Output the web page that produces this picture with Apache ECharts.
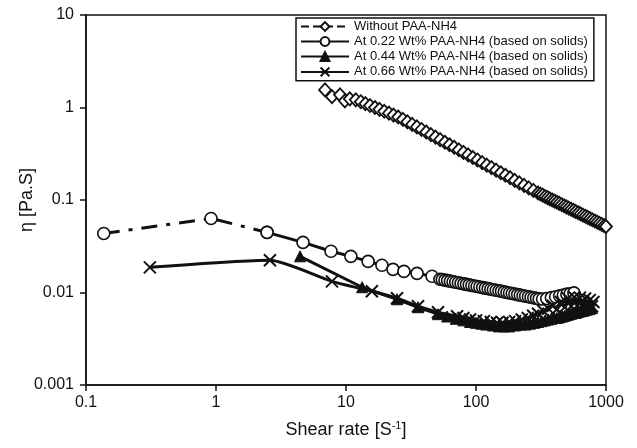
<!DOCTYPE html>
<html>
<head>
<meta charset="utf-8">
<script src="https://cdn.jsdelivr.net/npm/echarts@6/dist/echarts.min.js"></script>
<style>
  html, body { margin: 0; padding: 0; background: #fff; }
  #chart { width: 637px; height: 448px; }
</style>
</head>
<body>
<div id="chart"></div>
<script>
// tick labels
var xTicks = ['0.1', '1', '10', '100', '1000'];
var yTicks = ['0.001', '0.01', '0.1', '1', '10'];

var seriesNames = [
  'Without PAA-NH4',
  'At 0.22 Wt% PAA-NH4 (based on solids)',
  'At 0.44 Wt% PAA-NH4 (based on solids)',
  'At 0.66 Wt% PAA-NH4 (based on solids)'
];

// without PAA-NH4 (diamonds)
var rate0 = [6.9, 7.8, 9.0, 9.8, 10.7, 11.9, 13, 14.1, 15.3, 16.7, 18.1, 19.7, 21.4, 23.2, 25.2,
  27.4, 29.7, 32.3, 35.1, 38.1, 41.4, 45, 48.8, 53, 57.6, 62.5, 67.9, 73.8, 80.1, 87, 94.5,
  102.6, 111.5, 121, 131.5, 142.8, 155, 168.4, 183, 198.6, 215.7, 234.3, 254.5, 276.4, 300,
  313, 326, 340, 355, 370, 386, 402, 419, 437, 456, 476, 496, 517, 539, 562, 586, 611, 637,
  665, 693, 723, 754, 786, 820, 855, 891, 929, 969, 1000];
var eta0 = [1.55, 1.31, 1.37, 1.18, 1.24, 1.21, 1.155, 1.10, 1.05, 1.00, 0.955, 0.91, 0.868, 0.828, 0.79,
  0.745, 0.70, 0.657, 0.617, 0.579, 0.543, 0.509, 0.479, 0.449, 0.421, 0.396, 0.372, 0.349, 0.327, 0.307, 0.288,
  0.271, 0.254, 0.238, 0.224, 0.210, 0.197, 0.185, 0.174, 0.163, 0.153, 0.144, 0.135, 0.127, 0.119,
  0.116, 0.113, 0.109, 0.106, 0.103, 0.100, 0.0974, 0.0946, 0.0919, 0.0892, 0.0866, 0.0842, 0.0818, 0.0794, 0.0771, 0.0749, 0.0728, 0.0707,
  0.0686, 0.0667, 0.0648, 0.0629, 0.0611, 0.0593, 0.0576, 0.056, 0.0544, 0.0529, 0.0517];

// 0.22 wt% (circles)
var rate1 = [0.137, 0.916, 2.47, 4.67, 7.67, 10.9, 14.8, 18.9, 23, 27.9, 35.2, 45.9, 52.8,
  55, 57.7, 60.5, 63.5, 66.6, 69.8, 73.2, 76.8, 80.6, 84.5, 88.6, 93, 97.5, 102, 107, 112.5,
  118, 124, 130, 136, 143, 150, 157, 165, 173, 181, 190, 199, 209, 219, 230, 241, 253, 265,
  278, 292, 306, 325, 350, 380, 410, 440, 470, 500, 530, 566];
var eta1 = [0.0435, 0.0632, 0.0447, 0.0348, 0.0279, 0.0246, 0.0217, 0.0197, 0.0178, 0.0169, 0.0161, 0.015, 0.0139,
  0.0138, 0.01362, 0.01344, 0.01326, 0.01308, 0.01291, 0.01274, 0.01257, 0.0124, 0.01224, 0.01208, 0.01192, 0.01176, 0.01161, 0.01146, 0.0113,
  0.01115, 0.011, 0.01086, 0.01072, 0.01057, 0.01043, 0.0103, 0.01015, 0.01001, 0.00988, 0.00975, 0.00962, 0.00949, 0.00936, 0.00923, 0.00911, 0.00899, 0.00888,
  0.00876, 0.00864, 0.00853, 0.0085, 0.0086, 0.0088, 0.009, 0.0092, 0.0094, 0.0096, 0.0097, 0.0099];

// 0.44 wt% (triangles)
var rate2 = [4.43, 13.3, 24.7, 35.8, 51, 60, 70, 80, 90, 100, 110, 120, 135, 150, 165, 180, 200,
  220, 240, 260, 280, 300, 320, 340, 360, 380, 400, 420, 440, 460, 480, 500, 520, 540, 560,
  580, 600, 620, 640, 660, 680, 700, 720, 740, 760, 780];
var eta2 = [0.0246, 0.0114, 0.00845, 0.00693, 0.00583, 0.0055, 0.0052, 0.005, 0.0048, 0.0047, 0.0046, 0.0045, 0.0044, 0.0043, 0.0043, 0.0043, 0.0044,
  0.0045, 0.0045, 0.0046, 0.0047, 0.0048, 0.0049, 0.005, 0.0051, 0.0052, 0.0053, 0.0053, 0.0054, 0.0055, 0.0056, 0.0057, 0.0058, 0.0059, 0.006,
  0.006, 0.0061, 0.0062, 0.0063, 0.0063, 0.0064, 0.0065, 0.0066, 0.0066, 0.0067, 0.0068];

// 0.66 wt% (crosses)
var rate3 = [0.31, 2.6, 7.8, 15.8, 24.7, 35.8, 51, 71.5, 80, 90, 100, 115, 130, 145, 160, 180, 200,
  225, 250, 275, 300, 330, 360, 390, 420, 450, 480, 510, 540, 570, 600, 630, 660, 690, 720, 750, 780, 800];
var eta3 = [0.0187, 0.0223, 0.0132, 0.0103, 0.00867, 0.00711, 0.00612, 0.00554, 0.0053, 0.0051, 0.005, 0.0049, 0.0048, 0.0047, 0.0047, 0.0048, 0.0049,
  0.0051, 0.0053, 0.0056, 0.0059, 0.0063, 0.0067, 0.0072, 0.0066, 0.0079, 0.0069, 0.0086, 0.0071, 0.0089, 0.0072, 0.0088, 0.007, 0.0086, 0.0069, 0.0083, 0.0071, 0.0079];

function pairs(xs, ys) {
  return xs.map(function (x, i) { return [x, ys[i]]; });
}

var pts1 = pairs(rate1, eta1);
var font = 'Liberation Sans, Arial, sans-serif';

var chart = echarts.init(document.getElementById('chart'));
chart.setOption({
  backgroundColor: '#fff',
  animation: false,
  textStyle: { fontFamily: font },
  grid: {
    left: 86, right: 31, top: 15, bottom: 63,
    outerBoundsMode: 'none',
    show: true, borderColor: '#111', borderWidth: 1.5
  },
  legend: {
    data: seriesNames,
    orient: 'vertical',
    left: 296, top: 18,
    itemGap: 2, itemWidth: 48, itemHeight: 11,
    padding: [2, 6, 2, 4],
    borderColor: '#111', borderWidth: 1.5,
    backgroundColor: '#fff',
    textStyle: { fontSize: 13, color: '#111', fontFamily: font }
  },
  xAxis: {
    type: 'log', logBase: 10, min: 0.1, max: 1000,
    name: 'Shear rate [S{sup|-1}]',
    nameLocation: 'middle', nameGap: 35,
    nameMoveOverlap: false,
    nameTextStyle: {
      fontSize: 18, color: '#111', fontFamily: font,
      rich: { sup: { fontSize: 11, padding: [0, 0, 9, 0], color: '#111' } }
    },
    axisLine: { lineStyle: { color: '#111', width: 1.5 } },
    axisTick: { length: 6, lineStyle: { color: '#111', width: 1.5 } },
    minorTick: { show: false },
    splitLine: { show: false },
    axisLabel: {
      fontSize: 16, color: '#111', margin: 10,
      formatter: function (v) { return xTicks[Math.round(Math.log10(v)) + 1]; }
    }
  },
  yAxis: {
    type: 'log', logBase: 10, min: 0.001, max: 10,
    name: 'η [Pa.S]',
    nameLocation: 'middle', nameGap: 50,
    nameMoveOverlap: false,
    nameTextStyle: { fontSize: 18, color: '#111', fontFamily: font },
    axisLine: { lineStyle: { color: '#111', width: 1.5 } },
    axisTick: { length: 6, lineStyle: { color: '#111', width: 1.5 } },
    splitLine: { show: false },
    axisLabel: {
      fontSize: 16, color: '#111', margin: 12,
      formatter: function (v) { return yTicks[Math.round(Math.log10(v)) + 3]; }
    }
  },
  series: [
    {
      name: seriesNames[0], type: 'line',
      data: pairs(rate0, eta0),
      symbol: 'diamond', symbolSize: [12, 13],
      itemStyle: { color: '#fff', borderColor: '#111', borderWidth: 1.8 },
      lineStyle: { color: '#111', width: 2, type: 'dashed' },
      z: 2
    },
    {
      // dashed start of the 0.22 wt% curve
      type: 'line',
      data: pts1.slice(0, 3),
      symbol: 'circle', symbolSize: 12,
      itemStyle: { color: '#fff', borderColor: '#111', borderWidth: 1.6 },
      lineStyle: { color: '#111', width: 3, type: [16, 9, 4, 9] },
      z: 4
    },
    {
      name: seriesNames[1], type: 'line',
      data: pts1.slice(2),
      symbol: 'circle', symbolSize: 12,
      itemStyle: { color: '#fff', borderColor: '#111', borderWidth: 1.6 },
      lineStyle: { color: '#111', width: 3 },
      z: 4
    },
    {
      name: seriesNames[2], type: 'line',
      data: pairs(rate2, eta2),
      symbol: 'triangle', symbolSize: 11,
      itemStyle: { color: '#111', borderColor: '#111', borderWidth: 1 },
      lineStyle: { color: '#111', width: 3 },
      z: 3
    },
    {
      name: seriesNames[3], type: 'line',
      data: pairs(rate3, eta3),
      smooth: 0.2,
      symbol: 'path://M0,0L10,10M10,0L0,10', symbolSize: 12,
      itemStyle: { color: 'none', borderColor: '#111', borderWidth: 2 },
      lineStyle: { color: '#111', width: 3 },
      z: 5
    }
  ]
});
</script>
</body>
</html>
